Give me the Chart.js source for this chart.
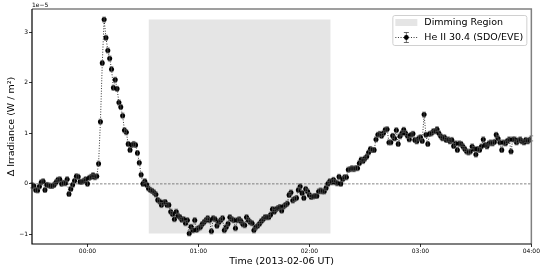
<!DOCTYPE html>
<html>
<head>
<meta charset="utf-8">
<script src="https://cdn.jsdelivr.net/npm/chart.js@4"></script>
<style>
  html, body { margin: 0; padding: 0; background: #fff; }
  #wrap { width: 541px; height: 271px; }
</style>
</head>
<body>
<div id="wrap"><canvas id="chart"></canvas></div>
<script>
// minutes from 2013-02-06 00:00 UT, 1 minute cadence
const startMinute = -30
// Δ irradiance in units of 1e-5 W/m^2
const irradiance = [
  -0.03, -0.04, -0.12, -0.13, -0.05, 0.03, 0.05, -0.12, -0.02, -0.03,
  -0.04, -0.04, -0.02, 0.03, 0.08, 0.09, 0.00, 0.02, 0.01, 0.09,
  -0.20, -0.10, -0.02, 0.06, 0.15, 0.14, 0.04, 0.04, 0.06, 0.09,
  0.00, 0.12, 0.14, 0.17, 0.13, 0.15, 0.40, 1.23, 2.39, 3.25,
  2.89, 2.64, 2.48, 2.27, 1.90, 2.06, 1.88, 1.61, 1.52, 1.35,
  1.06, 1.02, 0.79, 0.67, 0.77, 0.79, 0.77, 0.61, 0.42, 0.18,
  0.00, 0.05, -0.02, -0.09, -0.12, -0.14, -0.17, -0.21, -0.32, -0.35,
  -0.42, -0.37, -0.36, -0.42, -0.42, -0.55, -0.60, -0.70, -0.55, -0.63,
  -0.66, -0.71, -0.70, -0.78, -0.72, -0.98, -0.85, -0.92, -0.72, -0.91,
  -0.88, -0.86, -0.80, -0.76, -0.72, -0.68, -0.72, -0.94, -0.68, -0.70,
  -0.83, -0.76, -0.72, -0.68, -0.92, -0.86, -0.79, -0.66, -0.70, -0.72,
  -0.88, -0.72, -0.70, -0.74, -0.80, -0.82, -0.66, -0.72, -0.76, -0.78,
  -0.92, -0.86, -0.83, -0.79, -0.74, -0.70, -0.66, -0.66, -0.66, -0.61,
  -0.50, -0.55, -0.50, -0.48, -0.46, -0.53, -0.45, -0.42, -0.39, -0.22,
  -0.17, -0.33, -0.30, -0.28, -0.12, -0.05, -0.18, -0.28, -0.10, -0.15,
  -0.22, -0.26, -0.25, -0.24, -0.24, -0.15, -0.13, -0.15, -0.15, -0.08,
  0.00, 0.05, 0.03, 0.08, 0.03, 0.01, 0.14, 0.00, 0.09, 0.13,
  0.13, 0.28, 0.29, 0.31, 0.29, 0.31, 0.31, 0.41, 0.48, 0.45,
  0.50, 0.54, 0.62, 0.69, 0.67, 0.67, 0.88, 0.97, 0.99, 0.95,
  1.00, 1.07, 1.08, 0.82, 0.82, 0.95, 0.90, 1.06, 0.79, 0.94,
  1.00, 1.07, 1.00, 0.95, 0.88, 0.97, 0.99, 0.87, 0.84, 0.90,
  0.92, 0.85, 1.37, 0.97, 0.79, 0.99, 1.00, 1.04, 1.04, 1.08,
  1.00, 0.94, 0.90, 0.92, 0.87, 0.88, 0.84, 0.87, 0.75, 0.80,
  0.67, 0.80, 0.79, 0.74, 0.69, 0.64, 0.62, 0.64, 0.74, 0.69,
  0.58, 0.69, 0.67, 0.74, 0.88, 0.77, 0.74, 0.80, 0.82, 0.80,
  0.83, 0.97, 0.90, 0.82, 0.67, 0.82, 0.80, 0.85, 0.88, 0.64,
  0.88, 0.88, 0.82, 0.86, 0.88, 0.84, 0.82, 0.87, 0.84, 0.87,
  0.90
]
const errorBar = 0.05
const dimmingStart = 33
const dimmingEnd = 131.5
const xTicks = [0, 60, 120, 180, 240]
const yTicks = [-1, 0, 1, 2, 3]

const minutes = irradiance.map((v, i) => startMinute + i)
const points = minutes.map((m, i) => ({ x: m, y: irradiance[i] }))
const dimTop = Math.max(...irradiance)
const dimBottom = Math.min(...irradiance)

const FONT = "'DejaVu Sans', sans-serif"

function hhmm(m) {
  const t = ((m % 1440) + 1440) % 1440
  const h = Math.floor(t / 60), mm = t % 60
  return String(h).padStart(2, '0') + ':' + String(mm).padStart(2, '0')
}

// vertical error bars with caps
const errorBars = {
  id: 'errorBars',
  afterDatasetsDraw(chart) {
    const ctx = chart.ctx, x = chart.scales.x, y = chart.scales.y
    ctx.save()
    ctx.strokeStyle = '#555'
    ctx.lineWidth = 0.7
    points.forEach(p => {
      const px = x.getPixelForValue(p.x)
      const y1 = y.getPixelForValue(p.y - errorBar)
      const y2 = y.getPixelForValue(p.y + errorBar)
      ctx.beginPath()
      ctx.moveTo(px, y1); ctx.lineTo(px, y2)
      ctx.moveTo(px - 1.8, y1); ctx.lineTo(px + 1.8, y1)
      ctx.moveTo(px - 1.8, y2); ctx.lineTo(px + 1.8, y2)
      ctx.stroke()
    })
    ctx.restore()
  }
}

// frame, exponent label and legend
const decorations = {
  id: 'decorations',
  afterDraw(chart) {
    const ctx = chart.ctx, a = chart.chartArea
    ctx.save()
    ctx.lineWidth = 1.5
    ctx.strokeStyle = '#808080'
    ctx.beginPath()
    ctx.moveTo(a.left, a.top); ctx.lineTo(a.right, a.top); ctx.lineTo(a.right, a.bottom)
    ctx.stroke()
    ctx.lineWidth = 1.2
    ctx.strokeStyle = '#000'
    ctx.beginPath()
    ctx.moveTo(a.left, a.top); ctx.lineTo(a.left, a.bottom); ctx.lineTo(a.right, a.bottom)
    ctx.stroke()

    ctx.fillStyle = '#000'
    ctx.font = '6px ' + FONT
    ctx.textAlign = 'left'
    ctx.textBaseline = 'middle'
    ctx.fillText('1e\u22125', a.left, 5)

    // legend
    const lw = 134, lh = 30
    const lx = a.right - 5 - lw, ly = a.top + 6
    ctx.beginPath()
    ctx.roundRect(lx + 0.5, ly + 0.5, lw, lh, 2)
    ctx.fillStyle = 'rgba(255,255,255,0.8)'
    ctx.fill()
    ctx.strokeStyle = '#d0d0d0'
    ctx.lineWidth = 1
    ctx.stroke()

    const r1 = ly + 7.5, r2 = ly + 22.5
    ctx.fillStyle = '#e5e5e5'
    ctx.fillRect(lx + 3, r1 - 3.5, 22, 7)
    ctx.strokeStyle = '#000'
    ctx.lineWidth = 0.8
    ctx.setLineDash([1, 1.6])
    ctx.beginPath()
    ctx.moveTo(lx + 3, r2); ctx.lineTo(lx + 25, r2)
    ctx.stroke()
    ctx.setLineDash([])
    const cx = lx + 14
    ctx.strokeStyle = '#444'
    ctx.beginPath()
    ctx.moveTo(cx, r2 - 5); ctx.lineTo(cx, r2 + 5)
    ctx.moveTo(cx - 2.5, r2 - 5); ctx.lineTo(cx + 2.5, r2 - 5)
    ctx.moveTo(cx - 2.5, r2 + 5); ctx.lineTo(cx + 2.5, r2 + 5)
    ctx.stroke()
    ctx.fillStyle = '#000'
    ctx.beginPath()
    ctx.arc(cx, r2, 2.4, 0, Math.PI * 2)
    ctx.fill()

    ctx.font = '9.5px ' + FONT
    ctx.fillStyle = '#000'
    ctx.fillText('Dimming Region', lx + 32, r1 + 0.5)
    ctx.fillText('He II 30.4 (SDO/EVE)', lx + 32, r2 + 0.5)
    ctx.restore()
  }
}

new Chart(document.getElementById('chart'), {
  type: 'scatter',
  data: {
    datasets: [
      {
        label: 'He II 30.4 (SDO/EVE)',
        data: points,
        showLine: true,
        borderColor: '#000',
        borderWidth: 0.8,
        borderDash: [1, 1.6],
        pointRadius: 2.5,
        pointBackgroundColor: '#000',
        pointBorderWidth: 0,
        order: 1
      },
      {
        label: 'zero',
        data: [{ x: startMinute, y: 0 }, { x: xTicks[xTicks.length - 1], y: 0 }],
        showLine: true,
        borderColor: '#666',
        borderWidth: 0.8,
        borderDash: [2.5, 1.5],
        pointRadius: 0,
        order: 2
      },
      {
        label: 'Dimming Region',
        data: [{ x: dimmingStart, y: dimTop }, { x: dimmingEnd, y: dimTop }],
        showLine: true,
        borderWidth: 0,
        pointRadius: 0,
        backgroundColor: '#e5e5e5',
        fill: { value: dimBottom },
        order: 3
      }
    ]
  },
  options: {
    responsive: true,
    maintainAspectRatio: false,
    animation: false,
    events: [],
    layout: { padding: { left: 0, right: 7, top: 9, bottom: 0 } },
    plugins: { legend: { display: false }, tooltip: { enabled: false } },
    scales: {
      x: {
        type: 'linear',
        min: startMinute,
        max: 240,
        afterBuildTicks: s => { s.ticks = xTicks.map(v => ({ value: v })) },
        afterFit: s => { s.height = 27 },
        border: { display: false },
        grid: { drawOnChartArea: false, drawTicks: true, tickLength: 3, tickColor: '#000', lineWidth: 0.8 },
        ticks: {
          callback: v => hhmm(v),
          color: '#000',
          padding: 1,
          maxRotation: 0,
          font: { family: FONT, size: 6 }
        },
        title: {
          display: true,
          text: 'Time (2013-02-06 UT)',
          color: '#000',
          font: { family: FONT, size: 9.5 },
          padding: { top: 0, bottom: 4 }
        }
      },
      y: {
        min: -1.19,
        max: 3.46,
        afterBuildTicks: s => { s.ticks = yTicks.map(v => ({ value: v })) },
        afterFit: s => { s.width = 32 },
        border: { display: false },
        grid: { drawOnChartArea: false, drawTicks: true, tickLength: 3, tickColor: '#000', lineWidth: 0.8 },
        ticks: {
          callback: v => (v < 0 ? '\u2212' + Math.abs(v) : String(v)),
          color: '#000',
          padding: 1,
          font: { family: FONT, size: 6 }
        },
        title: {
          display: true,
          text: '\u0394 Irradiance (W / m\u00b2)',
          color: '#000',
          font: { family: FONT, size: 9.5 },
          padding: { top: 6, bottom: 0 }
        }
      }
    }
  },
  plugins: [errorBars, decorations]
})
</script>
</body>
</html>
